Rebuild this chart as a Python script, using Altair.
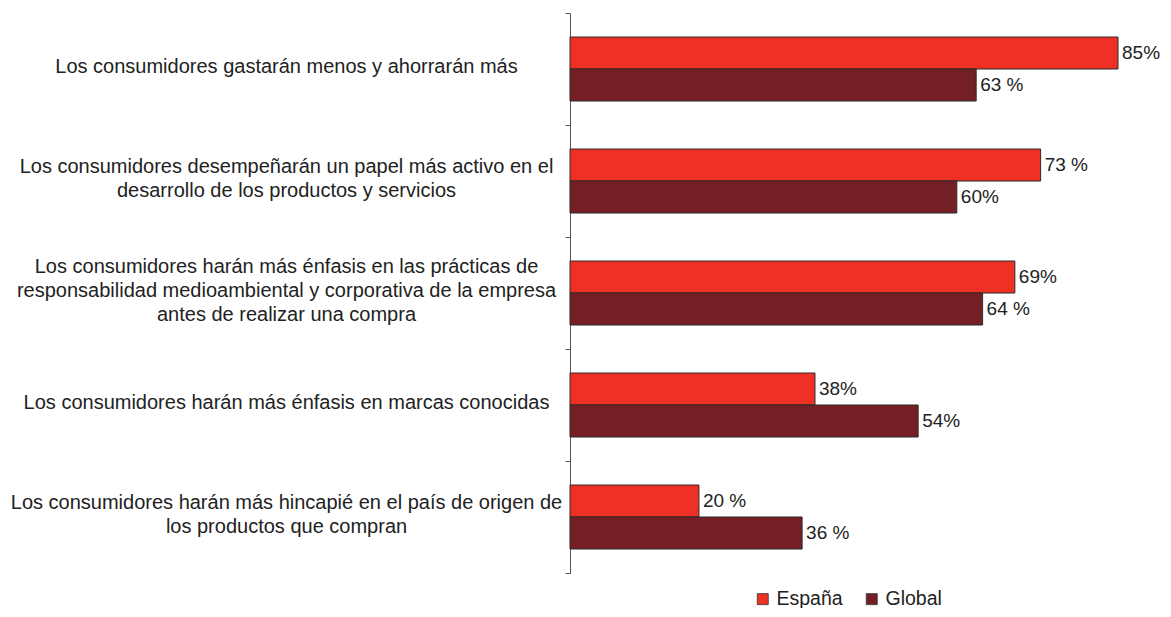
import altair as alt
import pandas as pd

categories = [
    "Los consumidores gastarán menos y ahorrarán más",
    "Los consumidores desempeñarán un papel más activo en el\ndesarrollo de los productos y servicios",
    "Los consumidores harán más énfasis en las prácticas de\nresponsabilidad medioambiental y corporativa de la empresa\nantes de realizar una compra",
    "Los consumidores harán más énfasis en marcas conocidas",
    "Los consumidores harán más hincapié en el país de origen de\nlos productos que compran",
]
series = ["España", "Global"]
espana = [85, 73, 69, 38, 20]
global_ = [63, 60, 64, 54, 36]
espana_labels = ["85%", "73 %", "69%", "38%", "20 %"]
global_labels = ["63 %", "60%", "64 %", "54%", "36 %"]
colors = ["#EE3124", "#741F25"]

rows = []
for i, c in enumerate(categories):
    rows.append({"cat": c, "serie": series[0], "value": espana[i], "label": espana_labels[i]})
    rows.append({"cat": c, "serie": series[1], "value": global_[i], "label": global_labels[i]})
df = pd.DataFrame(rows)

FONT = "Liberation Sans"

# centre multi-line labels on their band: the first line sits on the anchor,
# so pick a baseline (line-top / middle / line-bottom) by the number of lines
n_lines = "length(split(datum.value, '\\n'))"
baseline_expr = (
    f"{n_lines} == 1 ? 'line-top' : ({n_lines} == 3 ? 'line-bottom' : 'middle')"
)

y_enc = alt.Y(
    "cat:N",
    sort=categories,
    scale=alt.Scale(paddingInner=0, paddingOuter=0),
    axis=alt.Axis(
        title=None,
        tickBand="extent",
        tickSize=5,
        tickColor="#555555",
        domainColor="#555555",
        labelAlign="center",
        labelBaseline=alt.ExprRef(baseline_expr),
        labelPadding=279,
        labelLimit=0,
        labelFontSize=20,
        labelLineHeight=24,
        labelOffset=-15,
        labelFont=FONT,
        labelColor="#222222",
        labelExpr="split(datum.label, '\\n')",
    ),
)
yoff = alt.YOffset(
    "serie:N", sort=series, scale=alt.Scale(paddingOuter=0.75, paddingInner=0)
)
x_enc = alt.X("value:Q", scale=alt.Scale(domain=[0, 85], nice=False, zero=True), axis=None)

bars = alt.Chart(df).mark_bar(stroke="#2b2b2b", strokeWidth=1).encode(
    y=y_enc,
    yOffset=yoff,
    x=x_enc,
    color=alt.Color(
        "serie:N",
        sort=series,
        scale=alt.Scale(domain=series, range=colors),
        legend=alt.Legend(
            title=None,
            orient="none",
            direction="horizontal",
            legendX=183,
            legendY=576,
            symbolType="square",
            symbolSize=121,
            symbolStrokeColor="#333333",
            symbolStrokeWidth=0.8,
            labelFontSize=19.5,
            labelFont=FONT,
            labelColor="#222222",
            labelOffset=4,
            columnPadding=19,
            padding=0,
        ),
    ),
)

texts = alt.Chart(df).mark_text(
    align="left", baseline="middle", dx=4, fontSize=19, font=FONT, color="#222222"
).encode(
    y=alt.Y("cat:N", sort=categories),
    yOffset=alt.YOffset("serie:N", sort=series),
    x=alt.X("value:Q"),
    text="label:N",
)

chart = (
    alt.layer(bars, texts)
    .properties(
        width=548,
        height=560,
        autosize=alt.AutoSizeParams(type="none"),
        padding={"left": 562, "top": 5, "right": 45, "bottom": 35},
    )
    .configure_view(stroke=None)
)

chart.save("out.html", embed_options={"renderer": "svg", "actions": False})
